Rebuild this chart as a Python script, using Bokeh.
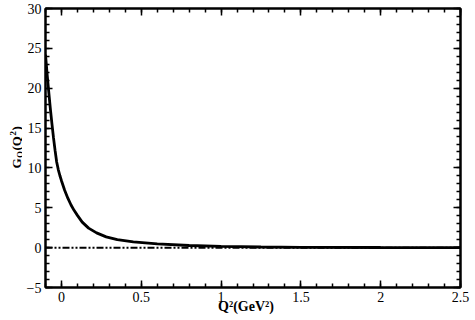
import math
from bokeh.plotting import figure
from bokeh.layouts import row
from bokeh.models import (Range1d, LinearAxis, SingleIntervalTicker, Span, Label,
                          CustomJSTickFormatter)
from bokeh.embed import file_html
from bokeh.resources import INLINE

# ---- data ----
q2 = [-0.1, -0.09, -0.08, -0.07, -0.06, -0.05, -0.04, -0.03, -0.02, -0.01, 0.0,
      0.02, 0.04, 0.06, 0.08, 0.1, 0.13, 0.17, 0.22, 0.28, 0.35, 0.45, 0.6,
      0.8, 1.0, 1.25, 1.5, 2.0, 2.5]
gq = [24.2, 21.8, 19.6, 17.5, 15.6, 13.8, 12.2, 10.75, 9.8, 9.05, 8.4,
      7.2, 6.2, 5.35, 4.65, 4.05, 3.2, 2.45, 1.85, 1.35, 1.0, 0.72, 0.48,
      0.27, 0.15, 0.08, 0.04, 0.015, 0.005]
zero_level = 0.0
x_range = (-0.1, 2.5)
y_range = (-5, 30)
x_major, y_major = 0.5, 5
x_title = "Q\u00b2(GeV\u00b2)" + "\u00a0" * 4

FONT = "Liberation Serif"
LW = 22  # width of the strip holding the y-axis title

p = figure(width=475 - LW, height=320, output_backend="svg", toolbar_location=None,
           x_range=Range1d(*x_range), y_range=Range1d(*y_range),
           x_axis_type=None, y_axis_type=None,
           min_border_left=45 - LW, min_border_right=15, min_border_top=8,
           min_border_bottom=33)
p.background_fill_color = "white"
p.border_fill_color = "white"
p.outline_line_color = "black"
p.outline_line_width = 2
p.xgrid.visible = False
p.ygrid.visible = False

fmt = CustomJSTickFormatter(code="""
var v = Math.round(tick*10)/10;
var s = String(Math.abs(v));
return (v < 0 ? '\u2212' : '') + s;
""")

def style(ax, show):
    ax.major_tick_in = 7
    ax.major_tick_out = 0
    ax.minor_tick_in = 4
    ax.minor_tick_out = 0
    ax.major_tick_line_width = 1.5
    ax.minor_tick_line_width = 1.5
    ax.major_tick_line_color = "black"
    ax.minor_tick_line_color = "black"
    ax.axis_line_color = "black"
    ax.axis_line_width = 2
    if show:
        ax.major_label_text_font = FONT
        ax.major_label_text_font_size = "14px"
        ax.major_label_text_color = "black"
        ax.major_label_standoff = 4
        ax.formatter = fmt
    else:
        ax.major_label_text_font_size = "0px"
        ax.major_label_standoff = 0
        ax.major_label_text_color = None

xb = LinearAxis(ticker=SingleIntervalTicker(interval=x_major, num_minor_ticks=5))
style(xb, True)
xb.axis_label = x_title
xb.axis_label_text_font = FONT
xb.axis_label_text_font_size = "14px"
xb.axis_label_text_font_style = "bold"
xb.axis_label_text_color = "black"
xb.axis_label_standoff = -6
p.add_layout(xb, "below")

xt = LinearAxis(ticker=SingleIntervalTicker(interval=x_major, num_minor_ticks=5))
style(xt, False)
p.add_layout(xt, "above")
for loc, show in (("left", True), ("right", False)):
    ax = LinearAxis(ticker=SingleIntervalTicker(interval=y_major, num_minor_ticks=5))
    style(ax, show)
    p.add_layout(ax, loc)

# zero reference line (dash-dot-dot)
p.add_layout(Span(location=zero_level, dimension="width", line_color="black",
                  line_width=2, line_dash="7 2 2 2 2 2"))

# curve
p.line(q2, gq, line_color="black", line_width=2.8)

# ---- narrow strip with the rotated y-axis title  G_Q(Q^2) ----
t = figure(width=LW, height=320, output_backend="svg", toolbar_location=None,
           x_range=Range1d(0, LW), y_range=Range1d(0, 320),
           x_axis_type=None, y_axis_type=None,
           min_border=0, min_border_left=0, min_border_right=0,
           min_border_top=0, min_border_bottom=0)
t.outline_line_color = None
t.xgrid.visible = False
t.ygrid.visible = False
t.background_fill_color = "white"
t.border_fill_color = "white"

ang = math.pi / 2
# (text, baseline x, start y measured up from the frame bottom, font size)
parts = [
    ("G", 16, 119, "13px"),
    ("Q", 19, 129.5, "9px"),
    ("(Q", 16, 137, "13px"),
    ("2", 12.5, 152, "9px"),
    (")", 16, 157, "13px"),
]
for txt, xs, ys, fs in parts:
    t.add_layout(Label(x=xs, y=ys, x_units="screen", y_units="screen", text=txt,
                       angle=ang, angle_units="rad", text_font=FONT,
                       text_font_size=fs, text_font_style="bold",
                       text_align="left", text_baseline="alphabetic",
                       text_color="black"))

layout = row(t, p, spacing=0)
open("out.html", "w").write(file_html(layout, INLINE))
